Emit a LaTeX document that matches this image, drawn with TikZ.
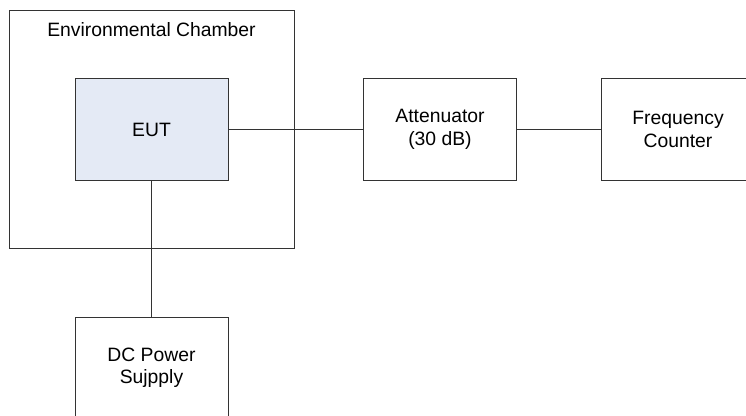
\documentclass[tikz,border=0pt]{standalone}
\usepackage{fontspec}
\setmainfont{Liberation Sans}
\usepackage{xcolor}
\usepackage{tikz}
\usetikzlibrary{positioning}

\definecolor{eutblue}{HTML}{E4EAF5}

\begin{document}
\begin{tikzpicture}[
  x=0.75pt, y=-0.75pt,
  box/.style={rectangle, draw=black!80, line width=0.6pt, minimum width=114.75pt, minimum height=76.5pt, font=\fontsize{14.5}{16.8}\selectfont, align=center, inner sep=0pt},
  wire/.style={draw=black!80, line width=0.6pt}
]
\useasboundingbox (0,0) rectangle (746,416);

% Chamber
\node[box, minimum width=213.75pt, minimum height=178.5pt] (chamber) at (151.5,129) {};
\node[font=\fontsize{14.5}{16.8}\selectfont] (chamberlbl) at (151.5,30) {Environmental Chamber};

% Equipment under test
\node[box, fill=eutblue] (eut) at (151.5,129.5) {EUT};

% Measurement chain
\node[box] (att) at (440,129.5) {Attenuator\\(30 dB)};
\node[box] (freq) at (678,129.5) {Frequency\\Counter};

% Supply
\node[box] (dc) at (151.5,368) {DC Power\\Sujpply};

% Wires
\draw[wire] (eut) -- (att);
\draw[wire] (att) -- (freq);
\draw[wire] (eut) -- (dc);

\end{tikzpicture}
\end{document}
